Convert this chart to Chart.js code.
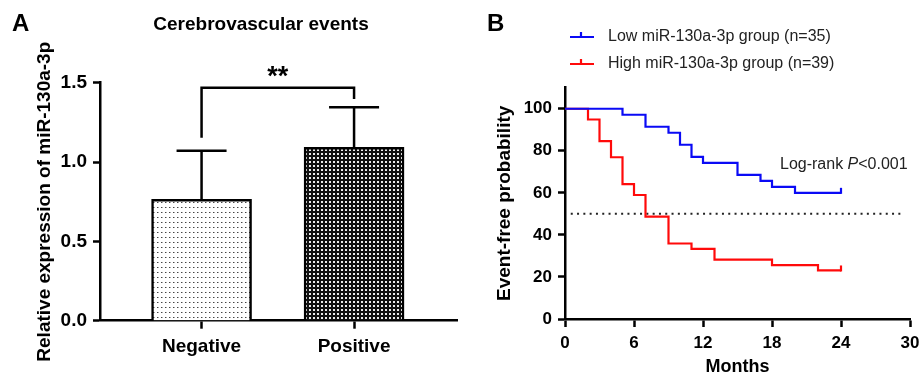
<!DOCTYPE html>
<html>
<head>
<meta charset="utf-8">
<script src="https://cdn.jsdelivr.net/npm/chart.js@4.4.1/dist/chart.umd.min.js"></script>
<style>
  html, body { margin: 0; padding: 0; background: #fff; }
  #wrap { position: relative; width: 921px; height: 378px; }
  #panelA { position: absolute; left: 0; top: 0; }
  #panelB { position: absolute; left: 460px; top: 0; }
</style>
</head>
<body>
<div id="wrap">
  <canvas id="panelA" width="460" height="378"></canvas>
  <canvas id="panelB" width="461" height="378"></canvas>
</div>
<script>
// Painel A - expressão relativa (média + DP)
const categorias = ['Negative', 'Positive'];
const mediaExpressao = [0.765, 1.093];
const dpExpressao = [0.306, 0.252];
const ticksA = [0.0, 0.5, 1.0, 1.5];

// Painel B - curvas de Kaplan-Meier
const mesesBaixo = [0, 5, 7, 9, 10, 11, 12, 15, 17, 18, 20, 24];
const sobrevBaixo = [100, 97.14, 91.43, 88.57, 82.86, 77.14, 74.29, 68.57, 65.71, 62.86, 60.0, 60.0];
const mesesAlto = [0, 2, 3, 4, 5, 6, 7, 9, 11, 13, 18, 22, 24];
const sobrevAlto = [100, 94.87, 84.62, 76.92, 64.10, 58.97, 48.72, 35.90, 33.33, 28.21, 25.64, 23.08, 23.08];
const mediana = 50;
const medianaMeses = [0.5, 29.5];
const ticksMeses = [0, 6, 12, 18, 24, 30];
const ticksProb = [0, 20, 40, 60, 80, 100];
const legendaB = ['Low miR-130a-3p group (n=35)', 'High miR-130a-3p group (n=39)'];

const AZUL = '#0a0af5';
const VERMELHO = '#ff0a0a';
const FONTE = "'Liberation Sans', Arial, sans-serif";

// texturas das barras
function padraoPontos() {
    const c = document.createElement('canvas');
    c.width = 4; c.height = 5;
    const g = c.getContext('2d');
    g.fillStyle = '#fff'; g.fillRect(0, 0, 4, 5);
    g.fillStyle = '#444'; g.fillRect(1, 2, 1, 1);
    g.fillStyle = '#aaa'; g.fillRect(2, 2, 1, 1);
    return g.createPattern(c, 'repeat');
}
function padraoXadrez() {
    const c = document.createElement('canvas');
    c.width = 4; c.height = 4;
    const g = c.getContext('2d');
    g.fillStyle = '#111'; g.fillRect(0, 0, 4, 4);
    g.fillStyle = '#eee'; g.fillRect(1, 1, 2, 2);
    return g.createPattern(c, 'repeat');
}

Chart.defaults.font.family = FONTE;
Chart.defaults.color = '#000';

// barras de erro + colchete de significância + textos do painel A
const extrasA = {
    id: 'extrasA',
    afterDatasetsDraw(chart) {
        const ctx = chart.ctx;
        const y = chart.scales.y;
        const x = chart.scales.x;
        const barras = chart.getDatasetMeta(0).data;
        ctx.save();
        ctx.strokeStyle = '#000';
        ctx.lineWidth = 2.5;
        barras.forEach((b, i) => {
            const topo = y.getPixelForValue(mediaExpressao[i] + dpExpressao[i]);
            ctx.beginPath();
            ctx.moveTo(b.x, b.y);
            ctx.lineTo(b.x, topo);
            ctx.moveTo(b.x - 25, topo);
            ctx.lineTo(b.x + 25, topo);
            ctx.stroke();
        });
        // colchete
        const xa = x.getPixelForValue(0), xb = x.getPixelForValue(1);
        const yTop = y.getPixelForValue(1.468);
        ctx.beginPath();
        ctx.moveTo(xa, y.getPixelForValue(1.153));
        ctx.lineTo(xa, yTop);
        ctx.lineTo(xb, yTop);
        ctx.lineTo(xb, y.getPixelForValue(1.397));
        ctx.stroke();
        ctx.fillStyle = '#000';
        ctx.textAlign = 'center';
        ctx.textBaseline = 'middle';
        ctx.font = 'bold 27px ' + FONTE;
        ctx.fillText('**', (xa + xb) / 2, 78);
        ctx.font = 'bold 19px ' + FONTE;
        ctx.fillText('Cerebrovascular events', 261, 25);
        ctx.textAlign = 'left';
        ctx.font = 'bold 24px ' + FONTE;
        ctx.fillText('A', 12, 24);
        ctx.restore();
    }
};

new Chart(document.getElementById('panelA'), {
    type: 'bar',
    data: {
        datasets: [{
            data: categorias.map((c, i) => ({ x: i, y: mediaExpressao[i] })),
            backgroundColor: [padraoPontos(), padraoXadrez()],
            borderColor: '#000',
            borderWidth: 2.5,
            barThickness: 100
        }]
    },
    options: {
        responsive: false,
        animation: false,
        layout: { padding: { top: 82.7, right: 3, left: 0, bottom: 0 } },
        plugins: { legend: { display: false }, tooltip: { enabled: false } },
        scales: {
            x: {
                type: 'linear',
                offset: false,
                min: -0.666,
                max: 1.675,
                afterBuildTicks: s => { s.ticks = categorias.map((c, i) => ({ value: i })); },
                afterFit: s => { s.height = 57.3; },
                ticks: {
                    callback: v => categorias[v],
                    font: { size: 19, weight: 'bold' },
                    padding: 7,
                    maxRotation: 0
                },
                grid: { offset: false, drawOnChartArea: false, drawTicks: true, tickLength: 8, tickWidth: 2.5, tickColor: '#000' },
                border: { display: true, color: '#000', width: 2.5 }
            },
            y: {
                min: 0,
                max: 1.5,
                afterBuildTicks: s => { s.ticks = ticksA.map(v => ({ value: v })); },
                afterFit: s => { s.width = 100; },
                ticks: {
                    callback: v => v.toFixed(1),
                    font: { size: 19, weight: 'bold' },
                    padding: 6
                },
                grid: { drawOnChartArea: false, drawTicks: true, tickLength: 7, tickWidth: 2.5, tickColor: '#000' },
                border: { display: true, color: '#000', width: 2.5 },
                title: {
                    display: true,
                    text: 'Relative expression of miR-130a-3p',
                    font: { size: 19, weight: 'bold' },
                    padding: { top: 33.6, bottom: 0 }
                }
            }
        }
    },
    plugins: [extrasA]
});

// legenda, marcas de censura e texto do log-rank do painel B
const extrasB = {
    id: 'extrasB',
    afterDatasetsDraw(chart) {
        const ctx = chart.ctx;
        ctx.save();
        ctx.lineWidth = 2.2;
        // censura no fim de cada curva
        [0, 1].forEach(i => {
            const pts = chart.getDatasetMeta(i).data;
            const p = pts[pts.length - 1];
            ctx.strokeStyle = chart.data.datasets[i].borderColor;
            ctx.beginPath();
            ctx.moveTo(p.x, p.y + 1);
            ctx.lineTo(p.x, p.y - 5);
            ctx.stroke();
        });
        // legenda
        ctx.font = '16px ' + FONTE;
        ctx.textBaseline = 'middle';
        ctx.textAlign = 'left';
        legendaB.forEach((txt, i) => {
            const ly = 37 + i * 27;
            ctx.strokeStyle = chart.data.datasets[i].borderColor;
            ctx.beginPath();
            ctx.moveTo(110, ly);
            ctx.lineTo(134, ly);
            ctx.moveTo(121, ly);
            ctx.lineTo(121, ly - 5);
            ctx.stroke();
            ctx.fillStyle = '#222';
            ctx.fillText(txt, 148, ly);
        });
        // log-rank
        let tx = 320;
        const ty = 165;
        ctx.fillStyle = '#222';
        ctx.fillText('Log-rank ', tx, ty);
        tx += ctx.measureText('Log-rank ').width;
        ctx.font = 'italic 16px ' + FONTE;
        ctx.fillText('P', tx, ty);
        tx += ctx.measureText('P').width;
        ctx.font = '16px ' + FONTE;
        ctx.fillText('<0.001', tx, ty);
        // letra do painel
        ctx.fillStyle = '#000';
        ctx.font = 'bold 24px ' + FONTE;
        ctx.fillText('B', 27, 24);
        ctx.restore();
    }
};

new Chart(document.getElementById('panelB'), {
    type: 'line',
    data: {
        datasets: [
            {
                label: legendaB[0],
                data: mesesBaixo.map((m, i) => ({ x: m, y: sobrevBaixo[i] })),
                borderColor: AZUL,
                borderWidth: 2.2,
                stepped: true,
                pointRadius: 0,
                fill: false
            },
            {
                label: legendaB[1],
                data: mesesAlto.map((m, i) => ({ x: m, y: sobrevAlto[i] })),
                borderColor: VERMELHO,
                borderWidth: 2.2,
                stepped: true,
                pointRadius: 0,
                fill: false
            },
            {
                label: 'mediana',
                data: medianaMeses.map(m => ({ x: m, y: mediana })),
                borderColor: '#222',
                borderWidth: 2,
                borderDash: [2, 4.3],
                pointRadius: 0,
                fill: false
            }
        ]
    },
    options: {
        responsive: false,
        animation: false,
        layout: { padding: { top: 87.7, right: 11, left: 0, bottom: 0 } },
        plugins: { legend: { display: false }, tooltip: { enabled: false } },
        scales: {
            x: {
                type: 'linear',
                min: 0,
                max: 30,
                afterBuildTicks: s => { s.ticks = ticksMeses.map(v => ({ value: v })); },
                afterFit: s => { s.height = 59; s.paddingLeft = 0; s.paddingRight = 0; },
                ticks: { font: { size: 17, weight: 'bold' }, padding: 6, maxRotation: 0 },
                grid: { drawOnChartArea: false, drawTicks: true, tickLength: 8, tickWidth: 2.5, tickColor: '#000' },
                border: { display: true, color: '#000', width: 2.5 },
                title: {
                    display: true,
                    text: 'Months',
                    font: { size: 18, weight: 'bold' },
                    padding: { top: 0, bottom: 0 }
                }
            },
            y: {
                min: 0,
                max: 110,
                afterBuildTicks: s => { s.ticks = ticksProb.map(v => ({ value: v })); },
                afterFit: s => { s.width = 105; },
                ticks: { font: { size: 17, weight: 'bold' }, padding: 6 },
                grid: { drawOnChartArea: false, drawTicks: true, tickLength: 7, tickWidth: 2.5, tickColor: '#000' },
                border: { display: true, color: '#000', width: 2.5 },
                title: {
                    display: true,
                    text: 'Event-free probability',
                    font: { size: 19, weight: 'bold' },
                    padding: { top: 33.6, bottom: 0 }
                }
            }
        }
    },
    plugins: [extrasB]
});
</script>
</body>
</html>
